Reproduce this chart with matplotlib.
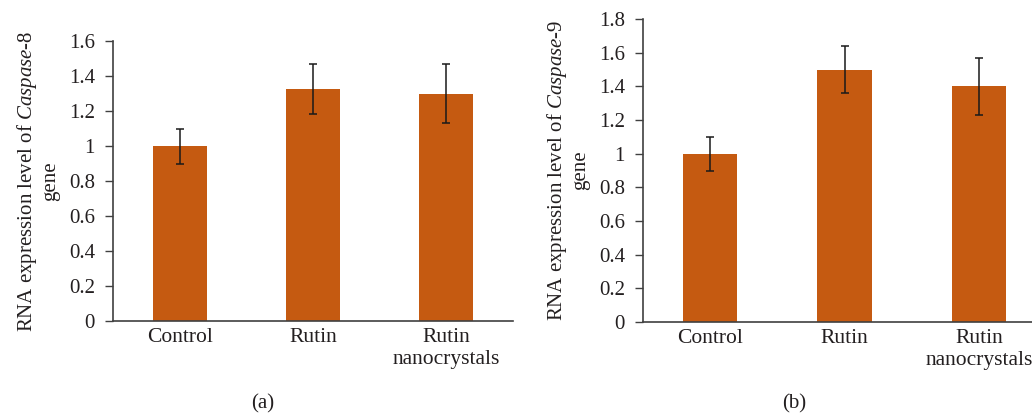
import matplotlib.pyplot as plt
import numpy as np

plt.rcParams['font.family'] = ['Liberation Serif', 'DejaVu Serif']
plt.rcParams['mathtext.fontset'] = 'custom'
plt.rcParams['mathtext.it'] = 'Liberation Serif:italic'
plt.rcParams['mathtext.rm'] = 'Liberation Serif'
plt.rcParams['text.color'] = '#231f20'
plt.rcParams['xtick.labelcolor'] = '#231f20'
plt.rcParams['ytick.labelcolor'] = '#231f20'
plt.rcParams['axes.labelcolor'] = '#231f20'

#=======================
# Data
#=======================
groups = ['Control', 'Rutin', 'Rutin\nnanocrystals']

casp8_mean = [1.0, 1.325, 1.30]
casp8_err = [0.10, 0.143, 0.17]

casp9_mean = [1.0, 1.50, 1.40]
casp9_err = [0.10, 0.142, 0.17]

bar_color = '#C55A11'
axis_color = '#404040'

#=======================
# Plot
#=======================
fig = plt.figure(figsize=(10.32, 4.15), dpi=100)
ax1 = fig.add_axes([0.1095, 0.2265, 0.3875, 0.6745])
ax2 = fig.add_axes([0.623, 0.224, 0.391, 0.730])


def draw_panel(ax, means, errs, ymax, gene):
    x = np.arange(len(groups))
    ax.bar(x, means, width=0.405, color=bar_color, zorder=2)
    ax.errorbar(x, means, yerr=errs, fmt='none', ecolor='#1a1a1a',
                elinewidth=1.1, capsize=3, capthick=1.1, zorder=3)
    ax.set_xlim(-0.5, 2.5)
    ax.set_ylim(0, ymax)
    ticks = np.arange(0, ymax + 0.01, 0.2)
    ax.set_yticks(ticks)
    ax.set_yticklabels([f'{v:.1f}'.rstrip('0').rstrip('.') for v in ticks])
    ax.set_xticks(x)
    ax.set_xticklabels(groups, fontsize=15.5)
    ax.tick_params(axis='x', length=0, pad=5)
    ax.tick_params(axis='y', length=6, width=1, color=axis_color,
                   labelsize=15, pad=7)
    for side in ['top', 'right']:
        ax.spines[side].set_visible(False)
    for side in ['left', 'bottom']:
        ax.spines[side].set_color(axis_color)
        ax.spines[side].set_linewidth(1.2)
    ax.set_ylabel('RNA expression level of $Caspase$-' + gene + '\ngene',
                  fontsize=15, linespacing=1.2, labelpad=6)


draw_panel(ax1, casp8_mean, casp8_err, 1.6, '8')
draw_panel(ax2, casp9_mean, casp9_err, 1.8, '9')

fig.text(263 / 1032, 1 - 404 / 415, '(a)', fontsize=15, ha='center', va='center')
fig.text(794 / 1032, 1 - 404 / 415, '(b)', fontsize=15, ha='center', va='center')

fig.savefig('out.png', dpi=100)
